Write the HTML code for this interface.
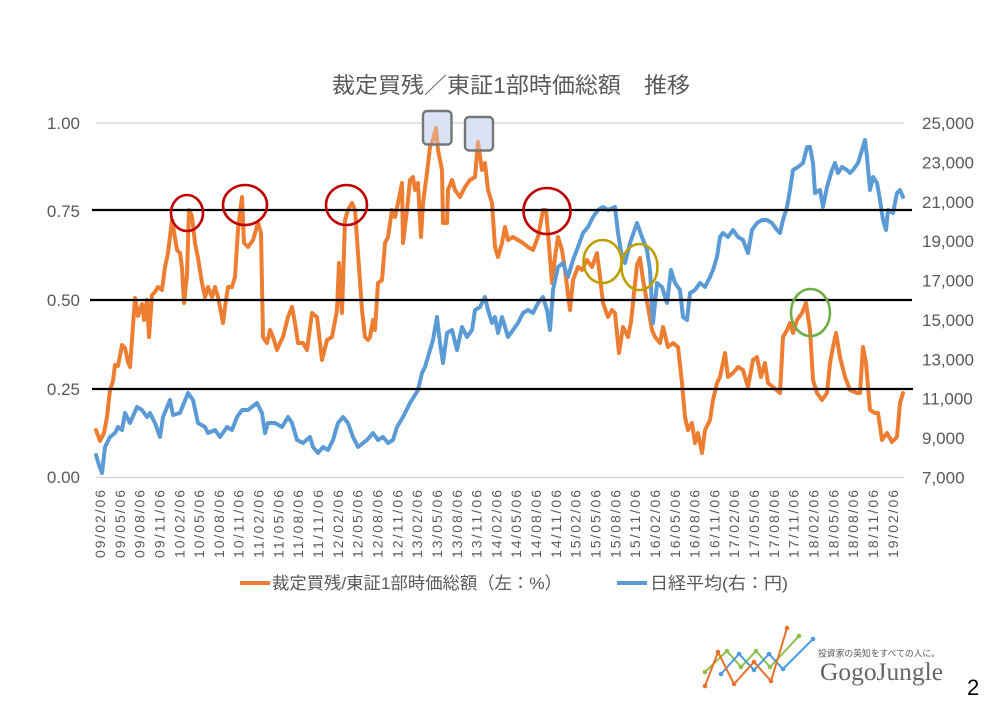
<!DOCTYPE html>
<html><head><meta charset="utf-8"><style>
html,body{margin:0;padding:0;background:#fff;}
svg{display:block;font-family:"Liberation Sans","Noto Sans CJK JP",sans-serif;}
</style></head><body>
<svg width="1001" height="706" viewBox="0 0 1001 706" xmlns="http://www.w3.org/2000/svg">
<rect width="1001" height="706" fill="#fff"/>
<text x="332" y="93" font-size="22" fill="#595959" textLength="358" lengthAdjust="spacingAndGlyphs" xml:space="preserve">裁定買残／東証1部時価総額　推移</text>

<line x1="96" y1="123" x2="904" y2="123" stroke="#d9d9d9" stroke-width="1.5"/>
<line x1="96" y1="477.5" x2="904" y2="477.5" stroke="#d9d9d9" stroke-width="1.5"/>

<g font-size="17" fill="#595959" text-anchor="end">
<text x="80" y="129">1.00</text>
<text x="80" y="217">0.75</text>
<text x="80" y="306">0.50</text>
<text x="80" y="395">0.25</text>
<text x="80" y="483">0.00</text>
</g>
<g font-size="17" fill="#595959">
<text x="922" y="129">25,000</text>
<text x="922" y="168.4">23,000</text>
<text x="922" y="207.8">21,000</text>
<text x="922" y="247.2">19,000</text>
<text x="922" y="286.6">17,000</text>
<text x="922" y="326">15,000</text>
<text x="922" y="365.3">13,000</text>
<text x="922" y="404.7">11,000</text>
<text x="922" y="444.1">9,000</text>
<text x="922" y="483.5">7,000</text>
</g>

<rect x="423" y="111" width="28.5" height="33.5" rx="4" fill="#dae3f3"/>
<rect x="465" y="117" width="28" height="33.5" rx="4" fill="#dae3f3"/>

<polyline fill="none" stroke="#ed7d31" stroke-width="4" stroke-linejoin="round" stroke-linecap="round" points="96,430 100,441 104,433 107,417 110,390 113,381 115,365 118,366 122,345 125,348 128,362 130,367 135,298 138,316 142,304 144,320 147,300 149,337 152,295 155,292 158,287 162,290 165,267 168,253 172,220 175,238 177,250 180,253 182,268 184,303 187,275 189,210 192,216 195,243 198,258 202,283 205,297 208,287 212,297 215,287 218,297 223,323 225,307 228,287 232,287 235,277 238,230 242,197 244,243 248,247 253,240 258,223 261,233 263,337 267,343 270,330 273,337 277,350 280,343 283,337 288,317 292,307 295,323 298,343 303,343 307,350 312,313 317,317 322,360 327,340 332,337 337,310 339,263 342,313 345,220 348,210 352,203 355,210 358,253 362,310 365,337 368,340 370,337 373,320 375,330 378,283 382,280 385,243 388,237 392,210 395,217 398,203 402,183 403,243 407,210 410,180 413,177 415,190 418,183 421,237 423,203 427,173 430,147 433,140 436,128 438,150 442,170 443,223 447,223 448,190 452,180 455,190 460,197 465,187 470,180 475,177 478,142 482,170 485,163 488,190 492,203 495,247 498,257 502,243 505,227 508,240 513,237 518,240 523,243 528,247 533,250 538,237 543,210 546,210 548,233 552,283 555,257 558,237 562,250 565,270 570,310 573,280 578,267 582,270 587,260 592,267 597,253 600,277 603,303 608,317 612,310 615,313 619,353 623,327 628,337 631,322 634,293 637,265 640,258 643,280 648,307 652,330 655,337 660,343 663,327 668,347 673,343 678,347 682,383 685,417 688,430 692,423 695,443 698,433 702,453 705,430 710,420 713,400 717,383 720,377 725,353 728,377 733,373 738,367 743,370 748,387 753,360 757,357 761,377 765,363 768,383 773,387 780,393 783,337 787,330 790,323 793,333 797,320 802,313 806,303 810,330 813,380 817,393 822,400 827,393 830,363 833,347 836,333 840,357 845,377 850,390 857,393 860,393 863,347 866,363 870,410 875,413 878,413 882,440 887,433 892,442 897,437 900,403 903,393"/>

<polyline fill="none" stroke="#5b9bd5" stroke-width="4" stroke-linejoin="round" stroke-linecap="round" points="96,455 99,465 102,473 105,447 110,437 115,433 118,427 122,430 125,413 130,423 137,407 142,410 147,417 150,413 155,423 160,437 163,417 170,400 173,415 180,413 188,393 193,400 198,423 205,427 208,433 215,430 220,437 227,427 232,430 237,417 242,410 248,410 257,403 262,413 265,433 268,423 275,423 282,427 288,417 292,423 297,440 303,443 310,437 313,447 318,453 323,447 328,450 333,440 338,423 343,417 348,423 353,437 358,447 363,443 367,440 373,433 378,440 383,437 388,443 393,440 397,427 403,417 410,403 418,390 422,373 425,367 430,350 433,340 437,317 440,343 443,363 447,333 452,330 457,350 462,327 467,337 472,330 475,310 480,307 485,297 488,310 492,323 495,317 498,333 502,317 505,327 508,337 513,330 518,323 523,313 528,310 533,313 538,303 543,297 547,310 550,330 553,290 558,267 563,263 568,277 573,260 578,247 583,233 588,227 593,217 598,210 603,207 608,210 615,207 618,233 622,257 625,263 630,243 637,223 642,237 647,250 650,270 653,323 657,283 662,287 667,303 671,270 675,283 680,290 683,317 687,320 690,293 695,290 700,283 705,287 710,277 713,270 717,257 720,237 723,233 728,237 733,230 738,237 743,240 748,253 752,230 757,223 762,220 767,220 772,223 777,230 780,233 783,220 787,207 790,190 793,170 798,167 803,163 807,147 810,147 813,163 815,193 820,190 823,207 827,187 832,170 835,163 838,173 842,167 847,170 850,173 853,170 858,163 862,150 865,140 867,157 870,190 873,177 877,183 880,200 883,220 886,230 888,210 893,213 897,193 900,190 903,197"/>

<line x1="92" y1="210" x2="912" y2="210" stroke="#000" stroke-width="2.2"/>
<line x1="90" y1="300" x2="912" y2="300" stroke="#000" stroke-width="2.2"/>
<line x1="92" y1="389" x2="913" y2="389" stroke="#000" stroke-width="2.2"/>

<rect x="423" y="111" width="28.5" height="33.5" rx="4" fill="#dae3f3" fill-opacity="0.35" stroke="#767676" stroke-width="2.4"/>
<rect x="465" y="117" width="28" height="33.5" rx="4" fill="#dae3f3" fill-opacity="0.35" stroke="#767676" stroke-width="2.4"/>

<g fill="none" stroke-width="2.6">
<ellipse cx="187" cy="213" rx="16" ry="18" stroke="#c00000"/>
<ellipse cx="245" cy="205" rx="22" ry="20" stroke="#c00000"/>
<ellipse cx="346.5" cy="205" rx="20.5" ry="20" stroke="#c00000"/>
<ellipse cx="547" cy="211" rx="23.5" ry="23" stroke="#c00000"/>
<ellipse cx="602.5" cy="261.5" rx="19" ry="21.5" stroke="#bf9f00"/>
<ellipse cx="639.5" cy="267" rx="18" ry="23" stroke="#bf9f00"/>
<ellipse cx="810.5" cy="312.5" rx="19.5" ry="23.5" stroke="#70ad47"/>
</g>

<g font-size="14" fill="#595959" text-anchor="end">
<text transform="translate(105,490) rotate(-90)" textLength="68" lengthAdjust="spacing">09/02/06</text>
<text transform="translate(124.82,490) rotate(-90)" textLength="68" lengthAdjust="spacing">09/05/06</text>
<text transform="translate(144.64,490) rotate(-90)" textLength="68" lengthAdjust="spacing">09/08/06</text>
<text transform="translate(164.46,490) rotate(-90)" textLength="68" lengthAdjust="spacing">09/11/06</text>
<text transform="translate(184.28,490) rotate(-90)" textLength="68" lengthAdjust="spacing">10/02/06</text>
<text transform="translate(204.1,490) rotate(-90)" textLength="68" lengthAdjust="spacing">10/05/06</text>
<text transform="translate(223.92,490) rotate(-90)" textLength="68" lengthAdjust="spacing">10/08/06</text>
<text transform="translate(243.74,490) rotate(-90)" textLength="68" lengthAdjust="spacing">10/11/06</text>
<text transform="translate(263.56,490) rotate(-90)" textLength="68" lengthAdjust="spacing">11/02/06</text>
<text transform="translate(283.38,490) rotate(-90)" textLength="68" lengthAdjust="spacing">11/05/06</text>
<text transform="translate(303.2,490) rotate(-90)" textLength="68" lengthAdjust="spacing">11/08/06</text>
<text transform="translate(323.02,490) rotate(-90)" textLength="68" lengthAdjust="spacing">11/11/06</text>
<text transform="translate(342.84,490) rotate(-90)" textLength="68" lengthAdjust="spacing">12/02/06</text>
<text transform="translate(362.66,490) rotate(-90)" textLength="68" lengthAdjust="spacing">12/05/06</text>
<text transform="translate(382.48,490) rotate(-90)" textLength="68" lengthAdjust="spacing">12/08/06</text>
<text transform="translate(402.3,490) rotate(-90)" textLength="68" lengthAdjust="spacing">12/11/06</text>
<text transform="translate(422.12,490) rotate(-90)" textLength="68" lengthAdjust="spacing">13/02/06</text>
<text transform="translate(441.94,490) rotate(-90)" textLength="68" lengthAdjust="spacing">13/05/06</text>
<text transform="translate(461.76,490) rotate(-90)" textLength="68" lengthAdjust="spacing">13/08/06</text>
<text transform="translate(481.58,490) rotate(-90)" textLength="68" lengthAdjust="spacing">13/11/06</text>
<text transform="translate(501.4,490) rotate(-90)" textLength="68" lengthAdjust="spacing">14/02/06</text>
<text transform="translate(521.22,490) rotate(-90)" textLength="68" lengthAdjust="spacing">14/05/06</text>
<text transform="translate(541.04,490) rotate(-90)" textLength="68" lengthAdjust="spacing">14/08/06</text>
<text transform="translate(560.86,490) rotate(-90)" textLength="68" lengthAdjust="spacing">14/11/06</text>
<text transform="translate(580.68,490) rotate(-90)" textLength="68" lengthAdjust="spacing">15/02/06</text>
<text transform="translate(600.5,490) rotate(-90)" textLength="68" lengthAdjust="spacing">15/05/06</text>
<text transform="translate(620.32,490) rotate(-90)" textLength="68" lengthAdjust="spacing">15/08/06</text>
<text transform="translate(640.14,490) rotate(-90)" textLength="68" lengthAdjust="spacing">15/11/06</text>
<text transform="translate(659.96,490) rotate(-90)" textLength="68" lengthAdjust="spacing">16/02/06</text>
<text transform="translate(679.78,490) rotate(-90)" textLength="68" lengthAdjust="spacing">16/05/06</text>
<text transform="translate(699.6,490) rotate(-90)" textLength="68" lengthAdjust="spacing">16/08/06</text>
<text transform="translate(719.42,490) rotate(-90)" textLength="68" lengthAdjust="spacing">16/11/06</text>
<text transform="translate(739.24,490) rotate(-90)" textLength="68" lengthAdjust="spacing">17/02/06</text>
<text transform="translate(759.06,490) rotate(-90)" textLength="68" lengthAdjust="spacing">17/05/06</text>
<text transform="translate(778.88,490) rotate(-90)" textLength="68" lengthAdjust="spacing">17/08/06</text>
<text transform="translate(798.7,490) rotate(-90)" textLength="68" lengthAdjust="spacing">17/11/06</text>
<text transform="translate(818.52,490) rotate(-90)" textLength="68" lengthAdjust="spacing">18/02/06</text>
<text transform="translate(838.34,490) rotate(-90)" textLength="68" lengthAdjust="spacing">18/05/06</text>
<text transform="translate(858.16,490) rotate(-90)" textLength="68" lengthAdjust="spacing">18/08/06</text>
<text transform="translate(877.98,490) rotate(-90)" textLength="68" lengthAdjust="spacing">18/11/06</text>
<text transform="translate(897.8,490) rotate(-90)" textLength="68" lengthAdjust="spacing">19/02/06</text>
</g>

<line x1="240" y1="583" x2="270" y2="583" stroke="#ed7d31" stroke-width="4"/>
<text x="272" y="589" font-size="17" fill="#595959" textLength="290" lengthAdjust="spacingAndGlyphs">裁定買残/東証1部時価総額（左：%）</text>
<line x1="617" y1="583" x2="647" y2="583" stroke="#5b9bd5" stroke-width="4"/>
<text x="650" y="589" font-size="17" fill="#595959" textLength="138" lengthAdjust="spacingAndGlyphs">日経平均(右：円)</text>

<g stroke-width="2" fill="none">
<polyline stroke="#8dc04a" points="705,672 727,651 741,667 756,651 770,667 799,636"/>
<polyline stroke="#4a9be0" points="721,674 739,654 754,670 769,654 783,669 813,639"/>
<polyline stroke="#e8702a" points="705,686 718,652 734,684 754,662 771,681 787,628"/>
</g>
<g fill="#8dc04a"><circle cx="705" cy="672" r="2.3"/><circle cx="727" cy="651" r="2.3"/><circle cx="741" cy="667" r="2.3"/><circle cx="756" cy="651" r="2.3"/><circle cx="770" cy="667" r="2.3"/><circle cx="799" cy="636" r="2.3"/></g>
<g fill="#4a9be0"><circle cx="721" cy="674" r="2.3"/><circle cx="739" cy="654" r="2.3"/><circle cx="754" cy="670" r="2.3"/><circle cx="769" cy="654" r="2.3"/><circle cx="783" cy="669" r="2.3"/><circle cx="813" cy="639" r="2.3"/></g>
<g fill="#e8702a"><circle cx="705" cy="686" r="2.3"/><circle cx="718" cy="652" r="2.3"/><circle cx="734" cy="684" r="2.3"/><circle cx="754" cy="662" r="2.3"/><circle cx="771" cy="681" r="2.3"/><circle cx="787" cy="628" r="2.3"/></g>
<text x="818" y="656.5" font-size="9" fill="#595959" textLength="122" lengthAdjust="spacingAndGlyphs">投資家の英知をすべての人に。</text>
<text x="820" y="680" font-family="Liberation Serif, serif" font-size="25" fill="#666" textLength="123" lengthAdjust="spacingAndGlyphs">GogoJungle</text>
<text x="967" y="695" font-size="22" fill="#000">2</text>
</svg>
</body></html>
